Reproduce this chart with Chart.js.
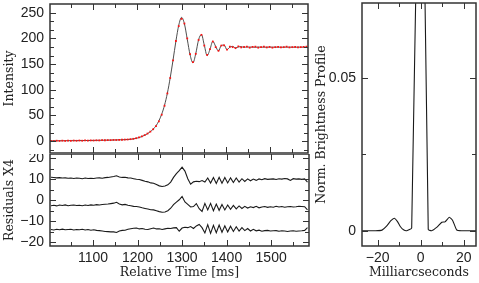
<!DOCTYPE html>
<html>
<head>
<meta charset="utf-8">
<script src="https://cdn.jsdelivr.net/npm/chart.js@4.4.1/dist/chart.umd.min.js"></script>
<style>
  html, body { margin: 0; padding: 0; background: #fff; }
  #wrap { position: relative; width: 479px; height: 283px; overflow: hidden; }
  canvas { position: absolute; }
</style>
</head>
<body>
<div id="wrap">
  <canvas id="intensity-chart" width="312" height="157" style="left:0;top:0"></canvas>
  <canvas id="residual-chart"  width="312" height="129" style="left:0;top:154px"></canvas>
  <canvas id="profile-chart"   width="167" height="283" style="left:312px;top:0"></canvas>
</div>
<script>
// ─────────────────────────────────────────────
//  Data
// ─────────────────────────────────────────────

const times = [
  1005.6, 1012.0, 1018.4, 1024.8, 1031.2, 1037.6, 1044.0, 1050.4, 1056.8, 1063.2,
  1069.6, 1076.0, 1082.4, 1088.8, 1095.2, 1101.6, 1108.0, 1114.4, 1120.8, 1127.2,
  1133.6, 1140.0, 1146.4, 1152.8, 1159.2, 1165.6, 1172.0, 1178.4, 1184.8, 1191.2,
  1197.6, 1204.0, 1210.4, 1216.8, 1223.2, 1229.6, 1236.0, 1242.4, 1248.8, 1255.2,
  1261.6, 1268.0, 1274.4, 1280.8, 1287.2, 1293.6, 1300.0, 1306.4, 1312.8, 1319.2,
  1325.6, 1332.0, 1338.4, 1344.8, 1351.2, 1357.6, 1364.0, 1370.4, 1376.8, 1383.2,
  1389.6, 1396.0, 1402.4, 1408.8, 1415.2, 1421.6, 1428.0, 1434.4, 1440.8, 1447.2,
  1453.6, 1460.0, 1466.4, 1472.8, 1479.2, 1485.6, 1492.0, 1498.4, 1504.8, 1511.2,
  1517.6, 1524.0, 1530.4, 1536.8, 1543.2, 1549.6, 1556.0, 1562.4, 1568.8, 1575.2,
  1581.6
];

// measured intensity (red points)
const intensity = [
  0.6, 0.3, 0.9, 0.5, 1.0, 0.6, 1.1, 0.7, 1.2, 0.8,
  1.3, 0.9, 1.4, 1.1, 1.5, 1.3, 1.7, 1.5, 1.9, 1.8,
  2.1, 2.0, 2.4, 2.3, 2.7, 2.8, 3.1, 3.3, 3.9, 4.6,
  5.8, 7.3, 9.4, 11.8, 14.9, 18.6, 23.2, 29.4, 38.6, 51.5,
  69.0, 93.0, 123.0, 157.5, 195.0, 224.0, 238.0, 229.0, 200.0, 169.5,
  154.0, 170.0, 197.0, 207.0, 186.0, 168.0, 179.0, 194.0, 183.0, 176.0,
  186.0, 186.5, 178.0, 184.0, 183.0, 181.0, 184.5, 182.5, 183.5, 184.0,
  182.0, 183.5, 184.0, 182.0, 183.0, 184.0, 182.5, 183.5, 182.0, 183.0,
  183.5, 182.5, 183.0, 184.0, 182.5, 183.0, 183.5, 182.5, 183.0, 183.5,
  184.0
];

// fitted model (black line)
const model = [
  0.7, 0.7, 0.8, 0.8, 0.9, 0.9, 1.0, 1.0, 1.1, 1.1,
  1.2, 1.2, 1.3, 1.3, 1.4, 1.5, 1.6, 1.7, 1.8, 1.9,
  2.0, 2.1, 2.3, 2.4, 2.6, 2.8, 3.0, 3.3, 3.7, 4.4,
  5.5, 7.0, 9.0, 11.5, 14.6, 18.5, 23.5, 30.0, 39.5, 52.5,
  70.0, 93.5, 123.5, 158.0, 194.5, 225.5, 241.0, 228.5, 198.5, 168.0,
  152.5, 170.5, 197.5, 207.5, 187.0, 166.5, 178.5, 194.5, 184.5, 175.5,
  186.5, 187.0, 178.0, 183.0, 184.5, 181.5, 183.5, 184.0, 182.5, 183.5,
  183.0, 183.2, 182.8, 183.2, 183.0, 183.1, 182.9, 183.1, 183.0, 183.0,
  183.1, 182.9, 183.0, 183.1, 183.0, 183.0, 182.9, 183.1, 183.0, 183.0,
  183.0
];

// residuals x4, three fits shown with offsets
const residTop = [
  10.9, 10.8, 10.6, 10.7, 10.5, 10.6, 10.4, 10.5, 10.3, 10.5,
  10.4, 10.2, 10.5, 10.3, 10.4, 10.3, 10.5, 10.6, 10.4, 10.7,
  10.8, 11.0, 11.2, 11.6, 11.0, 10.8, 10.9, 10.6, 10.5, 10.2,
  9.9, 9.8, 9.4, 9.0, 8.7, 8.2, 8.0, 7.4, 6.8, 6.5,
  6.7, 7.3, 8.6, 10.8, 12.6, 14.0, 15.7, 13.8, 10.2, 7.6,
  8.7, 9.0, 8.8, 9.3, 8.6, 10.5, 8.1, 10.8, 7.9, 10.9,
  8.0, 10.8, 8.2, 10.6, 8.4, 10.5, 8.6, 10.2, 8.9, 10.1,
  9.2, 10.0, 9.4, 10.1, 9.7, 10.2, 9.9, 10.0, 10.1, 9.8,
  10.2, 10.0, 10.3, 10.1, 9.4, 10.2, 10.0, 10.1, 9.9, 10.1,
  8.6
];

const residMid = [
  -2.6, -2.4, -2.7, -2.3, -2.5, -2.2, -2.6, -2.4, -2.3, -2.5,
  -2.4, -2.6, -2.3, -2.5, -2.2, -2.4, -2.1, -2.3, -2.0, -1.9,
  -1.8, -1.6, -1.4, -1.0, -1.8, -2.2, -2.0, -2.4, -2.6, -2.9,
  -3.0, -3.2, -3.6, -3.9, -4.2, -4.5, -4.6, -5.0, -5.4, -5.7,
  -5.6, -5.0, -3.8, -2.1, -0.9, 0.2, 1.8, -0.8, -2.0, -3.2,
  -3.0, -1.6, -4.0, -5.3, -1.5, -4.6, -1.5, -5.0, -1.8, -4.8,
  -2.0, -4.6, -2.3, -4.3, -2.5, -4.1, -2.7, -3.9, -2.9, -3.7,
  -3.1, -3.5, -2.9, -3.6, -3.2, -3.0, -3.4, -3.1, -3.3, -2.9,
  -3.2, -3.0, -3.3, -3.1, -3.0, -3.2, -3.1, -2.9, -3.0, -3.1,
  -4.6
];

const residBot = [
  -13.9, -14.1, -13.8, -14.0, -13.7, -14.0, -13.9, -13.8, -14.1, -13.9,
  -14.0, -13.8, -14.1, -13.9, -14.2, -14.0, -14.3, -14.4, -14.6, -14.8,
  -14.9, -15.0, -15.0, -15.3, -14.6, -14.3, -14.2, -13.8, -13.5, -13.3,
  -13.2, -13.6, -13.4, -13.8, -13.9, -13.5, -13.2, -13.6, -13.5, -13.9,
  -13.6, -13.3, -13.4, -13.1, -13.0, -14.7, -13.2, -12.8, -13.0, -12.5,
  -13.4, -12.2, -11.5, -13.0, -15.5, -11.6, -15.7, -11.9, -15.4, -11.8,
  -15.2, -12.1, -15.0, -12.3, -14.8, -12.6, -14.6, -13.0, -14.4, -13.4,
  -14.6, -13.8, -14.5, -14.2, -14.7, -14.4, -14.3, -14.6, -14.5, -14.4,
  -14.7, -14.5, -14.6, -14.8, -14.6, -14.5, -14.7, -14.6, -14.5, -14.3,
  -13.0
];

// brightness profile (right panel)
const profileMas = [-27.3, -21.0, -18.0, -16.0, -14.0, -12.3, -10.8, -9.5, -8.0, -6.5,
                    -4.2, 0.0, 3.5, 5.1, 7.4, 9.8, 11.3, 13.3, 14.9, 16.7, 19.0, 25.7];
const profileVal = [0, 0, 0.0002, 0.0014, 0.0032, 0.0041, 0.0030, 0.0014, 0.0003, 0,
                    0.0009, 0.165, 0.0004, 0, 0.0011, 0.0028, 0.0029, 0.0044, 0.0033, 0.0003, 0, 0];

// tick labels
const timeTicks      = [1100, 1200, 1300, 1400, 1500];
const intensityTicks = [0, 50, 100, 150, 200, 250];
const residTicks     = [-20, -10, 0, 10, 20];
const masTicks       = [-20, 0, 20];
const profileTicks   = [0, 0.05];

// ─────────────────────────────────────────────
//  Styling helpers
// ─────────────────────────────────────────────

const INK        = '#222';
const TICK_FONT  = { family: "'Liberation Sans Narrow', 'Liberation Sans', Arial, sans-serif", size: 14 };
const TITLE_FONT = { family: "'DejaVu Serif', serif", size: 12.5 };

function xy(xs, ys) {
  return xs.map((x, i) => ({ x, y: ys[i] }));
}

function fixedTicks(list) {
  return scale => { scale.ticks = list.map(v => ({ value: v })); };
}

function range(from, to, step) {
  const out = [];
  for (let v = from; v <= to + 1e-9; v += step) out.push(+v.toFixed(6));
  return out;
}

function noPad(s) {
  s.paddingTop = s.paddingBottom = s.paddingLeft = s.paddingRight = 0;
}

const minusFmt = v => (v < 0 ? '\u2212' + Math.abs(v) : String(v));

// frame box + inward ticks on all four sides (SM / PGPLOT look)
const frameTicks = {
  id: 'frameTicks',
  afterDraw(chart, args, opts) {
    const { ctx: c, chartArea: { left, right, top, bottom }, scales: { x, y } } = chart;
    c.save();
    c.strokeStyle = '#333';
    c.lineWidth = 1;
    const xt = (list, len) => list.forEach(v => {
      const px = Math.round(x.getPixelForValue(v)) + 0.5;
      if (px < left + 1 || px > right - 1) return;
      c.beginPath();
      c.moveTo(px, top);    c.lineTo(px, top + len);
      c.moveTo(px, bottom); c.lineTo(px, bottom - len);
      c.stroke();
    });
    const yt = (list, len) => list.forEach(v => {
      const py = Math.round(y.getPixelForValue(v)) + 0.5;
      if (py < top + 1 || py > bottom - 1) return;
      c.beginPath();
      c.moveTo(left, py);  c.lineTo(left + len, py);
      c.moveTo(right, py); c.lineTo(right - len, py);
      c.stroke();
    });
    xt(opts.xMinor || [], 4);
    xt(opts.xMajor || [], 6);
    yt(opts.yMinor || [], 4);
    yt(opts.yMajor || [], 6);
    c.lineWidth = 1.5;
    c.strokeRect(left, top, right - left, bottom - top);
    c.restore();
  }
};

function yAxis(min, max, ticks, title, fmt) {
  return {
    min, max,
    afterFit: s => { s.width = 50; noPad(s); },
    afterBuildTicks: fixedTicks(ticks),
    grid:   { display: false, drawTicks: false },
    border: { display: false },
    ticks:  { color: INK, font: TICK_FONT, padding: 6, callback: fmt || minusFmt },
    title:  { display: true, text: title, color: INK, font: TITLE_FONT, padding: { top: 2, bottom: 0 } },
  };
}

function xAxis(min, max, ticks, title) {
  return {
    type: 'linear', min, max,
    display: !!title,
    afterFit: s => { s.height = title ? 37 : 0; noPad(s); },
    afterBuildTicks: fixedTicks(ticks),
    grid:   { display: false, drawTicks: false },
    border: { display: false },
    ticks:  { color: INK, font: TICK_FONT, padding: 4, maxRotation: 0, callback: minusFmt },
    title:  { display: !!title, text: title || '', color: INK, font: TITLE_FONT, padding: { top: 0, bottom: 3 } },
  };
}

const baseOptions = {
  responsive: false,
  animation: false,
  devicePixelRatio: 1,
  events: [],
};

const T_MIN = 1003.4, T_MAX = 1585;

// ─────────────────────────────────────────────
//  Top panel: intensity
// ─────────────────────────────────────────────

new Chart(document.getElementById('intensity-chart'), {
  type: 'line',
  data: {
    datasets: [
      { data: xy(times, model), borderColor: '#3a3a3a', borderWidth: 0.9, pointRadius: 0,
        cubicInterpolationMode: 'monotone', order: 5 },
      { data: xy(times, intensity), showLine: false, pointStyle: 'rect', pointRadius: 1.25,
        pointBackgroundColor: '#ff1010', pointBorderWidth: 0, order: 0 },
    ]
  },
  options: {
    ...baseOptions,
    layout: { padding: { left: 0, right: 3, top: 3, bottom: 3 } },
    plugins: {
      legend: { display: false }, tooltip: { enabled: false },
      frameTicks: { xMajor: timeTicks, xMinor: range(1050, 1550, 100),
                    yMajor: intensityTicks, yMinor: range(-50 / 3, 266, 50 / 3) },
    },
    scales: {
      x: xAxis(T_MIN, T_MAX, timeTicks, null),
      y: yAxis(-23, 267, intensityTicks, 'Intensity'),
    }
  },
  plugins: [frameTicks]
});

// ─────────────────────────────────────────────
//  Bottom panel: residuals
// ─────────────────────────────────────────────

new Chart(document.getElementById('residual-chart'), {
  type: 'line',
  data: {
    datasets: [residTop, residMid, residBot].map(r => ({
      data: xy(times, r), borderColor: '#1a1a1a', borderWidth: 1.1, pointRadius: 0, tension: 0,
    }))
  },
  options: {
    ...baseOptions,
    layout: { padding: { left: 0, right: 3, top: 0, bottom: 0 } },
    plugins: {
      legend: { display: false }, tooltip: { enabled: false },
      frameTicks: { xMajor: timeTicks, xMinor: range(1050, 1550, 100),
                    yMajor: residTicks, yMinor: range(-15, 15, 10) },
    },
    scales: {
      x: xAxis(T_MIN, T_MAX, timeTicks, 'Relative Time [ms]'),
      y: yAxis(-21.7, 21.9, residTicks, 'Residuals X4'),
    }
  },
  plugins: [frameTicks]
});

// ─────────────────────────────────────────────
//  Right panel: brightness profile
// ─────────────────────────────────────────────

new Chart(document.getElementById('profile-chart'), {
  type: 'line',
  data: {
    datasets: [{
      data: xy(profileMas, profileVal), borderColor: '#1a1a1a', borderWidth: 1.1,
      pointRadius: 0, tension: 0.15,
    }]
  },
  options: {
    ...baseOptions,
    layout: { padding: { left: 0, right: 3, top: 3, bottom: 0 } },
    plugins: {
      legend: { display: false }, tooltip: { enabled: false },
      frameTicks: { xMajor: masTicks, xMinor: [-10, 10],
                    yMajor: profileTicks, yMinor: [0.025] },
    },
    scales: {
      x: xAxis(-27.3, 25.7, masTicks, 'Milliarcseconds'),
      y: yAxis(-0.005, 0.0746, profileTicks, 'Norm. Brightness Profile', v => (v === 0 ? '0' : '0.05')),
    }
  },
  plugins: [frameTicks]
});
</script>
</body>
</html>
